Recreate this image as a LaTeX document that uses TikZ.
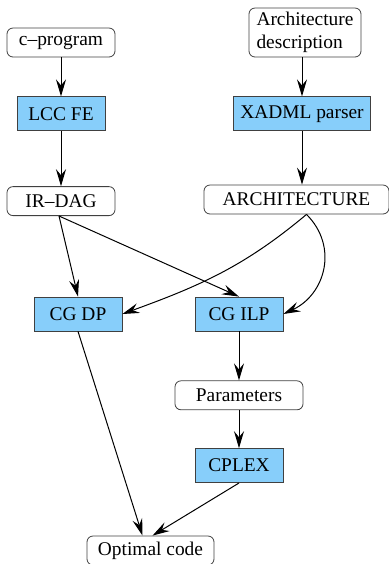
\documentclass[tikz,border=0pt]{standalone}
\usepackage{fontspec}
\setmainfont{Liberation Serif}
\usepackage{xcolor}
\usepackage{tikz}
\usetikzlibrary{arrows.meta,positioning}

\definecolor{boxblue}{RGB}{135,206,250}

\begin{document}
\begin{tikzpicture}[x=0.5pt, y=0.5pt, font=\fontsize{9.7}{11.4}\selectfont,
    blk/.style={draw=black!75, fill=boxblue, minimum width=44pt, minimum height=17pt, inner sep=1pt},
    rnd/.style={draw=black!75, rounded corners=3pt, minimum height=14.5pt, inner sep=1pt},
    arr/.style={-{Stealth[length=8.5pt,width=5pt,inset=3pt]}, line width=0.5pt}]
            \useasboundingbox (0,0) rectangle (389,-564);

            \node[rnd, minimum width=54pt] (cprog) at (61,-42.5) {c–program};
            \node[rnd, minimum width=56pt, minimum height=24.5pt, align=left] (archdesc) at (305,-32.5) {Architecture\\description};
            \node[blk, below=19.5pt of cprog] (lccfe) {LCC FE};
            \node[blk, minimum width=68.5pt, below=19.5pt of archdesc, xshift=-1.5pt] (xadml) {XADML parser};
            \node[rnd, minimum width=54pt, below=27.5pt of lccfe] (irdag) {IR–DAG};
            \node[rnd, minimum width=92.5pt] (arch) at (296.5,-199.5) {ARCHITECTURE};
            \node[blk] (cgdp) at (78,-314) {CG DP};
            \node[blk] (cgilp) at (239,-314) {CG ILP};
            \node[rnd, minimum width=64pt, below=24.5pt of cgilp] (params) {Parameters};
            \node[blk, below=19pt of params] (cplex) {CPLEX};
            \node[rnd, minimum width=63.5pt] (optimal) at (150.5,-550.5) {Optimal code};

            \draw[arr] (cprog) -- (lccfe);
            \draw[arr] (lccfe) -- (irdag);
            \draw[arr] (archdesc.south -| xadml) -- (xadml);
            \draw[arr] (xadml) -- (xadml |- arch.north);
            \draw[arr] ([xshift=-1pt]irdag.south) -- (cgdp.north);
            \draw[arr] ([xshift=-1pt]irdag.south) -- (cgilp.north);
            \draw[arr] ([xshift=5pt]arch.south) to[out=-140, in=20] (cgdp.east);
            \draw[arr] ([xshift=5pt]arch.south) to[out=-45, in=25, looseness=1.15] (cgilp.east);
            \draw[arr] (cgilp) -- (params);
            \draw[arr] (params) -- (cplex);
            \draw[arr] (cgdp.south) -- ([xshift=-4pt]optimal.north);
            \draw[arr] (cplex.south) -- ([xshift=1pt]optimal.north);
        \end{tikzpicture}
\end{document}
